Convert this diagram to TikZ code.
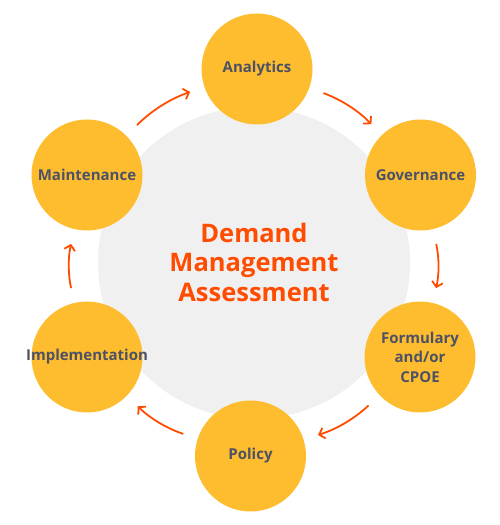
\documentclass[tikz,border=0pt]{standalone}
\usepackage{fontspec}
\setmainfont{Open Sans}
\usetikzlibrary{arrows.meta,positioning}
\definecolor{gold}{RGB}{253,189,46}
\definecolor{flame}{RGB}{255,76,0}
\definecolor{slate}{RGB}{76,81,102}
\definecolor{mist}{RGB}{240,240,240}
\tikzset{
  phase/.style={circle, fill=gold, minimum size=111pt, inner sep=0pt, text=slate, font=\fontsize{15}{19.5}\selectfont\bfseries, align=center},
  flow/.style={-{Straight Barb[length=5pt,width=11pt]}, line width=1.8pt, flame, shorten <=15pt, shorten >=15pt}
}
\begin{document}
\begin{tikzpicture}[x=1pt, y=1pt]
\useasboundingbox (0,0) rectangle (500,525);
\node[circle, fill=mist, minimum size=312pt, inner sep=0pt] (hub) at (254,262) {};
\node[text=flame, font=\fontsize{25.5}{29.5}\selectfont\bfseries, align=center] (title) at (254,263) {Demand\\Management\\Assessment};
\node[phase] (ana) at (257,456) {Analytics};
\node[phase] (gov) at (420.5,350) {Governance};
\node[phase] (form) at (420,168) {Formulary\\and/or\\CPOE};
\node[phase] (pol) at (250.5,69) {Policy};
\node[phase] (imp) at (87,168) {\makebox[0pt]{Implementation}};
\node[phase] (mai) at (87,350) {Maintenance};
\draw[flow] (mai) to[bend left=13] (ana);
\draw[flow] (ana) to[bend left=13] (gov);
\draw[flow] (gov) to[bend left=13] (form);
\draw[flow] (form) to[bend left=13] (pol);
\draw[flow] (pol) to[bend left=13] (imp);
\draw[flow] (imp) to[bend left=13] (mai);
\end{tikzpicture}
\end{document}
